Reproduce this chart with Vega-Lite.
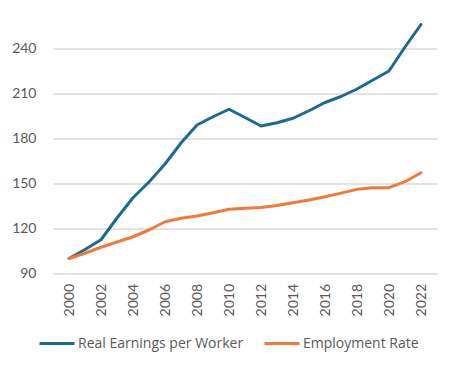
{
  "$schema": "https://vega.github.io/schema/vega-lite/v6.json",
  "width": 384,
  "height": 255,
  "autosize": "none",
  "padding": {"left": 53, "top": 18.5, "right": 19, "bottom": 95.5},
  "background": "white",
  "config": {
    "view": {"stroke": null},
    "font": "Lato"
  },
  "data": {
    "values": [
      {"year": 2000, "series": "Real Earnings per Worker", "value": 100},
      {"year": 2001, "series": "Real Earnings per Worker", "value": 106},
      {"year": 2002, "series": "Real Earnings per Worker", "value": 112.5},
      {"year": 2003, "series": "Real Earnings per Worker", "value": 127},
      {"year": 2004, "series": "Real Earnings per Worker", "value": 140.5},
      {"year": 2005, "series": "Real Earnings per Worker", "value": 151},
      {"year": 2006, "series": "Real Earnings per Worker", "value": 163},
      {"year": 2007, "series": "Real Earnings per Worker", "value": 177},
      {"year": 2008, "series": "Real Earnings per Worker", "value": 189},
      {"year": 2009, "series": "Real Earnings per Worker", "value": 194.5},
      {"year": 2010, "series": "Real Earnings per Worker", "value": 199.5},
      {"year": 2011, "series": "Real Earnings per Worker", "value": 194},
      {"year": 2012, "series": "Real Earnings per Worker", "value": 188.3},
      {"year": 2013, "series": "Real Earnings per Worker", "value": 190.5},
      {"year": 2014, "series": "Real Earnings per Worker", "value": 193.5},
      {"year": 2015, "series": "Real Earnings per Worker", "value": 198.5},
      {"year": 2016, "series": "Real Earnings per Worker", "value": 204},
      {"year": 2017, "series": "Real Earnings per Worker", "value": 208},
      {"year": 2018, "series": "Real Earnings per Worker", "value": 213},
      {"year": 2019, "series": "Real Earnings per Worker", "value": 219},
      {"year": 2020, "series": "Real Earnings per Worker", "value": 225},
      {"year": 2021, "series": "Real Earnings per Worker", "value": 241},
      {"year": 2022, "series": "Real Earnings per Worker", "value": 256},
      {"year": 2000, "series": "Employment Rate", "value": 100},
      {"year": 2001, "series": "Employment Rate", "value": 103.5},
      {"year": 2002, "series": "Employment Rate", "value": 107.5},
      {"year": 2003, "series": "Employment Rate", "value": 111},
      {"year": 2004, "series": "Employment Rate", "value": 114.5},
      {"year": 2005, "series": "Employment Rate", "value": 119},
      {"year": 2006, "series": "Employment Rate", "value": 124.5},
      {"year": 2007, "series": "Employment Rate", "value": 126.8},
      {"year": 2008, "series": "Employment Rate", "value": 128.3},
      {"year": 2009, "series": "Employment Rate", "value": 130.5},
      {"year": 2010, "series": "Employment Rate", "value": 132.8},
      {"year": 2011, "series": "Employment Rate", "value": 133.5},
      {"year": 2012, "series": "Employment Rate", "value": 134},
      {"year": 2013, "series": "Employment Rate", "value": 135.3},
      {"year": 2014, "series": "Employment Rate", "value": 137.2},
      {"year": 2015, "series": "Employment Rate", "value": 139},
      {"year": 2016, "series": "Employment Rate", "value": 141.2},
      {"year": 2017, "series": "Employment Rate", "value": 143.6},
      {"year": 2018, "series": "Employment Rate", "value": 146.1},
      {"year": 2019, "series": "Employment Rate", "value": 147.2},
      {"year": 2020, "series": "Employment Rate", "value": 147.2},
      {"year": 2021, "series": "Employment Rate", "value": 151.2},
      {"year": 2022, "series": "Employment Rate", "value": 157.2}
    ]
  },
  "mark": {"type": "line", "strokeWidth": 3, "strokeCap": "round", "strokeJoin": "round"},
  "encoding": {
    "x": {
      "field": "year",
      "type": "quantitative",
      "scale": {"domain": [1999, 2023], "nice": false, "zero": false},
      "axis": {
        "title": null,
        "values": [2000, 2002, 2004, 2006, 2008, 2010, 2012, 2014, 2016, 2018, 2020, 2022],
        "format": "d",
        "labelAngle": -90,
        "labelAlign": "right",
        "labelBaseline": "middle",
        "labelPadding": 10,
        "labelFontSize": 14,
        "labelColor": "#595959",
        "ticks": false,
        "domain": false,
        "grid": false
      }
    },
    "y": {
      "field": "value",
      "type": "quantitative",
      "scale": {"domain": [90, 260], "nice": false, "zero": false},
      "axis": {
        "title": null,
        "values": [90, 120, 150, 180, 210, 240],
        "labelPadding": 17,
        "labelFontSize": 14,
        "labelColor": "#595959",
        "ticks": false,
        "domain": false,
        "grid": true,
        "gridColor": "#d9d9d9",
        "gridWidth": 1.5
      }
    },
    "color": {
      "field": "series",
      "type": "nominal",
      "sort": ["Real Earnings per Worker", "Employment Rate"],
      "scale": {"domain": ["Real Earnings per Worker", "Employment Rate"], "range": ["#1c6b8f", "#f07a3a"]},
      "legend": {
        "title": null,
        "orient": "none",
        "direction": "horizontal",
        "legendX": -15,
        "legendY": 306,
        "padding": 0,
        "symbolType": "stroke",
        "symbolSize": 1225,
        "symbolStrokeWidth": 3,
        "labelFont": "Open Sans",
        "labelFontSize": 14,
        "labelLimit": 400,
        "labelColor": "#595959",
        "labelOffset": 2,
        "columnPadding": 14
      }
    }
  }
}
